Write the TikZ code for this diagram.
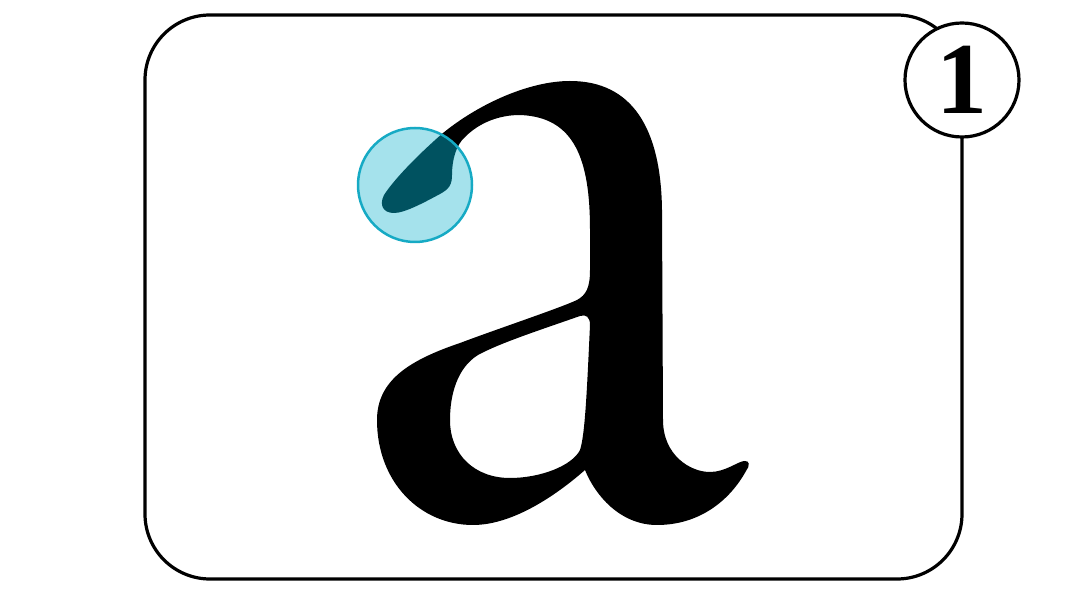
\documentclass[tikz,border=0pt]{standalone}
\usepackage{fontspec}
\newfontfamily\numfont{Liberation Serif}
\definecolor{hlfill}{RGB}{165,226,236}
\definecolor{hldark}{RGB}{0,82,96}
\definecolor{hlline}{RGB}{22,170,196}
\newcommand\letterapath{%
 (585,470) .. controls (560,492) and (515,525) .. (473,525)
 .. controls (420,525) and (377,482) .. (377,420)
 .. controls (377,380) and (410,360) .. (460,343)
 .. controls (500,328) and (560,308) .. (577,300)
 .. controls (586,295) and (590,288) .. (590,270)
 -- (590,230)
 .. controls (590,160) and (575,117) .. (520,115)
 .. controls (500,115) and (480,122) .. (465,137)
 .. controls (456,145) and (452,160) .. (452,175)
 .. controls (452,185) and (449,189) .. (440,194)
 .. controls (425,202) and (405,213) .. (394,213)
 .. controls (383,213) and (379,205) .. (384,195)
 .. controls (395,178) and (420,153) .. (443,133)
 .. controls (480,103) and (530,81) .. (570,81)
 .. controls (632,81) and (661,128) .. (662,210)
 -- (663,420)
 .. controls (663,455) and (690,472) .. (710,472)
 .. controls (725,472) and (737,462) .. (744,461)
 .. controls (750,460) and (750,466) .. (746,471)
 .. controls (730,500) and (700,525) .. (657,525)
 .. controls (620,525) and (595,495) .. (585,470)
 -- cycle
 (590,325) .. controls (590,317) and (586,314) .. (580,316)
 .. controls (540,330) and (500,343) .. (478,355)
 .. controls (457,368) and (450,395) .. (450,420)
 .. controls (450,455) and (475,478) .. (510,478)
 .. controls (540,478) and (572,466) .. (580,450)
 .. controls (585,435) and (587,390) .. (590,325)
 -- cycle
}
\tikzset{
 frame/.style={draw=black, line width=3.2pt, rounded corners=65pt},
 numcircle/.style={circle, draw=black, line width=3.2pt, fill=white, minimum size=114pt, inner sep=0pt, font=\numfont\bfseries\fontsize{102}{102}\selectfont},
 hlcircle/.style={circle, minimum size=114pt, inner sep=0pt}
}
\begin{document}
\begin{tikzpicture}[x=1pt,y=-1pt]
\useasboundingbox (0,0) rectangle (1080,601);
\draw[frame] (145,15) rectangle (962,579);
\fill[black, even odd rule] \letterapath;
\node[hlcircle] (hl) at (415,185) {};
\fill[hlfill] (hl.center) circle (57);
\begin{scope}
 \clip (hl.center) circle (57);
 \fill[hldark, even odd rule] \letterapath;
\end{scope}
\draw[hlline, line width=2.5pt] (hl.center) circle (57);
\node[numcircle] (num) at (962,80) {1};
\end{tikzpicture}
\end{document}
